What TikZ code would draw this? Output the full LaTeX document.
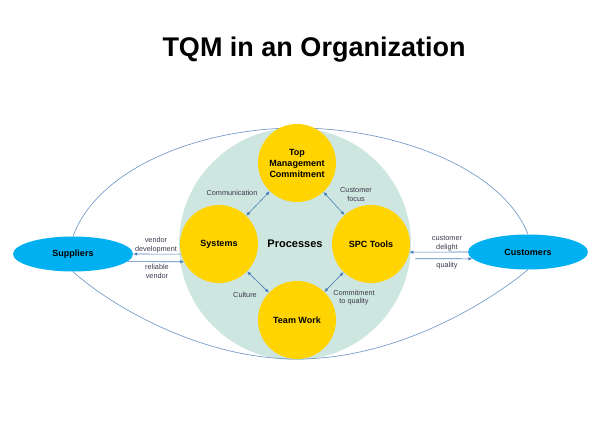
\documentclass[tikz,border=0pt]{standalone}
\usepackage{fontspec}
\setmainfont{Liberation Sans}
\usetikzlibrary{shapes.geometric,arrows.meta}
\definecolor{tealbg}{RGB}{205,230,223}
\definecolor{gold}{RGB}{255,212,0}
\definecolor{skyblue}{RGB}{0,176,240}
\definecolor{linkblue}{RGB}{74,126,187}
\definecolor{curveblue}{RGB}{120,157,200}
\definecolor{notegray}{RGB}{60,56,76}

\begin{document}
\begin{tikzpicture}[x=1pt,y=-1pt,
  hub/.style={circle,fill=gold,minimum size=78pt,inner sep=0pt,align=center,
    font=\fontsize{9}{11}\selectfont\bfseries},
  party/.style={ellipse,fill=skyblue,minimum width=120pt,minimum height=35pt,
    inner sep=0pt,font=\fontsize{9}{11}\selectfont\bfseries},
  link/.style={linkblue,line width=0.6pt,>={Latex[length=4pt,width=3.5pt]}},
  note/.style={align=center,text=notegray,font=\fontsize{7.3}{8.6}\selectfont}]
  \useasboundingbox (0,0) rectangle (600,439);
  \node[anchor=base,font=\fontsize{27}{32}\selectfont\bfseries] (title) at (314,56)
    {TQM in an Organization};
  \node[circle,fill=tealbg,minimum size=232pt,inner sep=0pt,
    font=\fontsize{11}{13}\selectfont\bfseries] (proc) at (295,244) {Processes};
  \node[party] (sup) at (73,254) {Suppliers};
  \node[party] (cus) at (528,252) {Customers};
  % outer lens
  \draw[curveblue,line width=0.7pt] (sup.north) .. controls (98,168) and (200,128) .. (297,128)
    .. controls (395,128) and (502,168) .. (cus.north);
  \draw[curveblue,line width=0.7pt] (sup.south) .. controls (110,305) and (200,359) .. (297,359)
    .. controls (395,359) and (485,305) .. (cus.south);
  \node[hub] (top) at (297,163) {Top\\Management\\Commitment};
  \node[hub] (sys) at (219,244) {Systems};
  \node[hub] (spc) at (371,244) {SPC Tools};
  \node[hub] (team) at (297,320) {Team Work};
  \draw[link,<->] (sys) -- (top);
  \draw[link,<->] (top) -- (spc);
  \draw[link,<->] (sys) -- (team);
  \draw[link,<->] (team) -- (spc);
  \draw[link,->] (sys.195) -- (sup.east);
  \draw[link,->] (sup.352) -- (sys.207.5);
  \draw[link,->] (cus.west) -- (spc.-12);
  \draw[link,->,shorten <=8pt] (spc.-22) -- (cus.187);
  \node[note] (comm) at (232,193) {Communication};
  \node[note] (focus) at (356,194.5) {Customer\\focus};
  \node[note] (cult) at (245,295) {Culture};
  \node[note] (qual) at (354,297.5) {Commitment\\to quality};
  \node[note] (vdev) at (156,245) {vendor\\development};
  \node[note] (relv) at (157,271.5) {reliable\\vendor};
  \node[note] (delight) at (447,243.5) {customer\\delight};
  \node[note] (quality) at (447,266) {quality};
\end{tikzpicture}
\end{document}
